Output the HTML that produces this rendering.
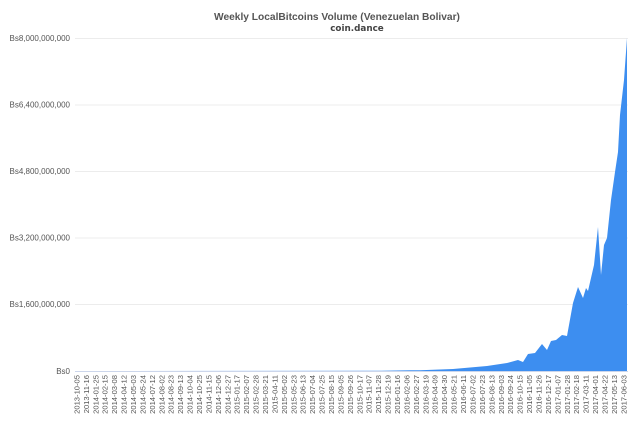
<!DOCTYPE html>
<html><head><meta charset="utf-8"><style>
html,body{margin:0;padding:0;background:#fff;}
svg{display:block;font-family:"Liberation Sans","DejaVu Sans",sans-serif;}
</style></head><body>
<svg width="640" height="427" viewBox="0 0 640 427" xmlns="http://www.w3.org/2000/svg">
<rect width="640" height="427" fill="#fff"/>
<text x="337" y="20" text-anchor="middle" font-size="10.2" font-weight="bold" fill="#555">Weekly LocalBitcoins Volume (Venezuelan Bolivar)</text>
<text x="357" y="31" text-anchor="middle" font-size="8.8" font-weight="bold" fill="#444" font-family="DejaVu Sans, sans-serif">coin.dance</text>
<g stroke="#ececec" stroke-width="1">
<line x1="75" x2="628" y1="38.5" y2="38.5"/>
<line x1="75" x2="628" y1="105" y2="105"/>
<line x1="75" x2="628" y1="171.5" y2="171.5"/>
<line x1="75" x2="628" y1="238" y2="238"/>
<line x1="75" x2="628" y1="304.5" y2="304.5"/>
</g>
<g font-size="8" fill="#555" text-anchor="end">
<text x="70" y="41">Bs8,000,000,000</text>
<text x="70" y="107.5">Bs6,400,000,000</text>
<text x="70" y="174">Bs4,800,000,000</text>
<text x="70" y="240.5">Bs3,200,000,000</text>
<text x="70" y="307">Bs1,600,000,000</text>
<text x="70" y="374">Bs0</text>
</g>
<path fill="#3d8ef0" d="M75,371 L380,370.8 L410,370.3 L420,370.3 L453,369 L487,366 L507,363 L518,360 L523,362 L528,354 L535,353 L542,344 L547,350 L551,341 L556,340 L562,335 L567,336 L573,303 L578,287 L583,298 L586,288 L588,291 L594,265 L598,227 L601,275 L604,245 L607,238 L611,200 L615,172 L618,152 L620,115 L624,80 L627,38 L627,371 Z"/>
<line x1="75" x2="628" y1="371.5" y2="371.5" stroke="#ccd6eb" stroke-width="1"/>
<g font-size="7.6" fill="#555" text-anchor="end">
<text transform="translate(79.4,375) rotate(-90)">2013-10-05</text>
<text transform="translate(88.8,375) rotate(-90)">2013-11-16</text>
<text transform="translate(98.3,375) rotate(-90)">2014-01-25</text>
<text transform="translate(107.7,375) rotate(-90)">2014-02-15</text>
<text transform="translate(117.1,375) rotate(-90)">2014-03-08</text>
<text transform="translate(126.6,375) rotate(-90)">2014-04-12</text>
<text transform="translate(136.0,375) rotate(-90)">2014-05-03</text>
<text transform="translate(145.4,375) rotate(-90)">2014-05-24</text>
<text transform="translate(154.8,375) rotate(-90)">2014-07-12</text>
<text transform="translate(164.3,375) rotate(-90)">2014-08-02</text>
<text transform="translate(173.7,375) rotate(-90)">2014-08-23</text>
<text transform="translate(183.1,375) rotate(-90)">2014-09-13</text>
<text transform="translate(192.6,375) rotate(-90)">2014-10-04</text>
<text transform="translate(202.0,375) rotate(-90)">2014-10-25</text>
<text transform="translate(211.4,375) rotate(-90)">2014-11-15</text>
<text transform="translate(220.9,375) rotate(-90)">2014-12-06</text>
<text transform="translate(230.3,375) rotate(-90)">2014-12-27</text>
<text transform="translate(239.7,375) rotate(-90)">2015-01-17</text>
<text transform="translate(249.1,375) rotate(-90)">2015-02-07</text>
<text transform="translate(258.6,375) rotate(-90)">2015-02-28</text>
<text transform="translate(268.0,375) rotate(-90)">2015-03-21</text>
<text transform="translate(277.4,375) rotate(-90)">2015-04-11</text>
<text transform="translate(286.9,375) rotate(-90)">2015-05-02</text>
<text transform="translate(296.3,375) rotate(-90)">2015-05-23</text>
<text transform="translate(305.7,375) rotate(-90)">2015-06-13</text>
<text transform="translate(315.2,375) rotate(-90)">2015-07-04</text>
<text transform="translate(324.6,375) rotate(-90)">2015-07-25</text>
<text transform="translate(334.0,375) rotate(-90)">2015-08-15</text>
<text transform="translate(343.4,375) rotate(-90)">2015-09-05</text>
<text transform="translate(352.9,375) rotate(-90)">2015-09-26</text>
<text transform="translate(362.3,375) rotate(-90)">2015-10-17</text>
<text transform="translate(371.7,375) rotate(-90)">2015-11-07</text>
<text transform="translate(381.2,375) rotate(-90)">2015-11-28</text>
<text transform="translate(390.6,375) rotate(-90)">2015-12-19</text>
<text transform="translate(400.0,375) rotate(-90)">2016-01-16</text>
<text transform="translate(409.5,375) rotate(-90)">2016-02-06</text>
<text transform="translate(418.9,375) rotate(-90)">2016-02-27</text>
<text transform="translate(428.3,375) rotate(-90)">2016-03-19</text>
<text transform="translate(437.7,375) rotate(-90)">2016-04-09</text>
<text transform="translate(447.2,375) rotate(-90)">2016-04-30</text>
<text transform="translate(456.6,375) rotate(-90)">2016-05-21</text>
<text transform="translate(466.0,375) rotate(-90)">2016-06-11</text>
<text transform="translate(475.5,375) rotate(-90)">2016-07-02</text>
<text transform="translate(484.9,375) rotate(-90)">2016-07-23</text>
<text transform="translate(494.3,375) rotate(-90)">2016-08-13</text>
<text transform="translate(503.8,375) rotate(-90)">2016-09-03</text>
<text transform="translate(513.2,375) rotate(-90)">2016-09-24</text>
<text transform="translate(522.6,375) rotate(-90)">2016-10-15</text>
<text transform="translate(532.0,375) rotate(-90)">2016-11-05</text>
<text transform="translate(541.5,375) rotate(-90)">2016-11-26</text>
<text transform="translate(550.9,375) rotate(-90)">2016-12-17</text>
<text transform="translate(560.3,375) rotate(-90)">2017-01-07</text>
<text transform="translate(569.8,375) rotate(-90)">2017-01-28</text>
<text transform="translate(579.2,375) rotate(-90)">2017-02-18</text>
<text transform="translate(588.6,375) rotate(-90)">2017-03-11</text>
<text transform="translate(598.1,375) rotate(-90)">2017-04-01</text>
<text transform="translate(607.5,375) rotate(-90)">2017-04-22</text>
<text transform="translate(616.9,375) rotate(-90)">2017-05-13</text>
<text transform="translate(626.3,375) rotate(-90)">2017-06-03</text>
</g>
</svg>
</body></html>
